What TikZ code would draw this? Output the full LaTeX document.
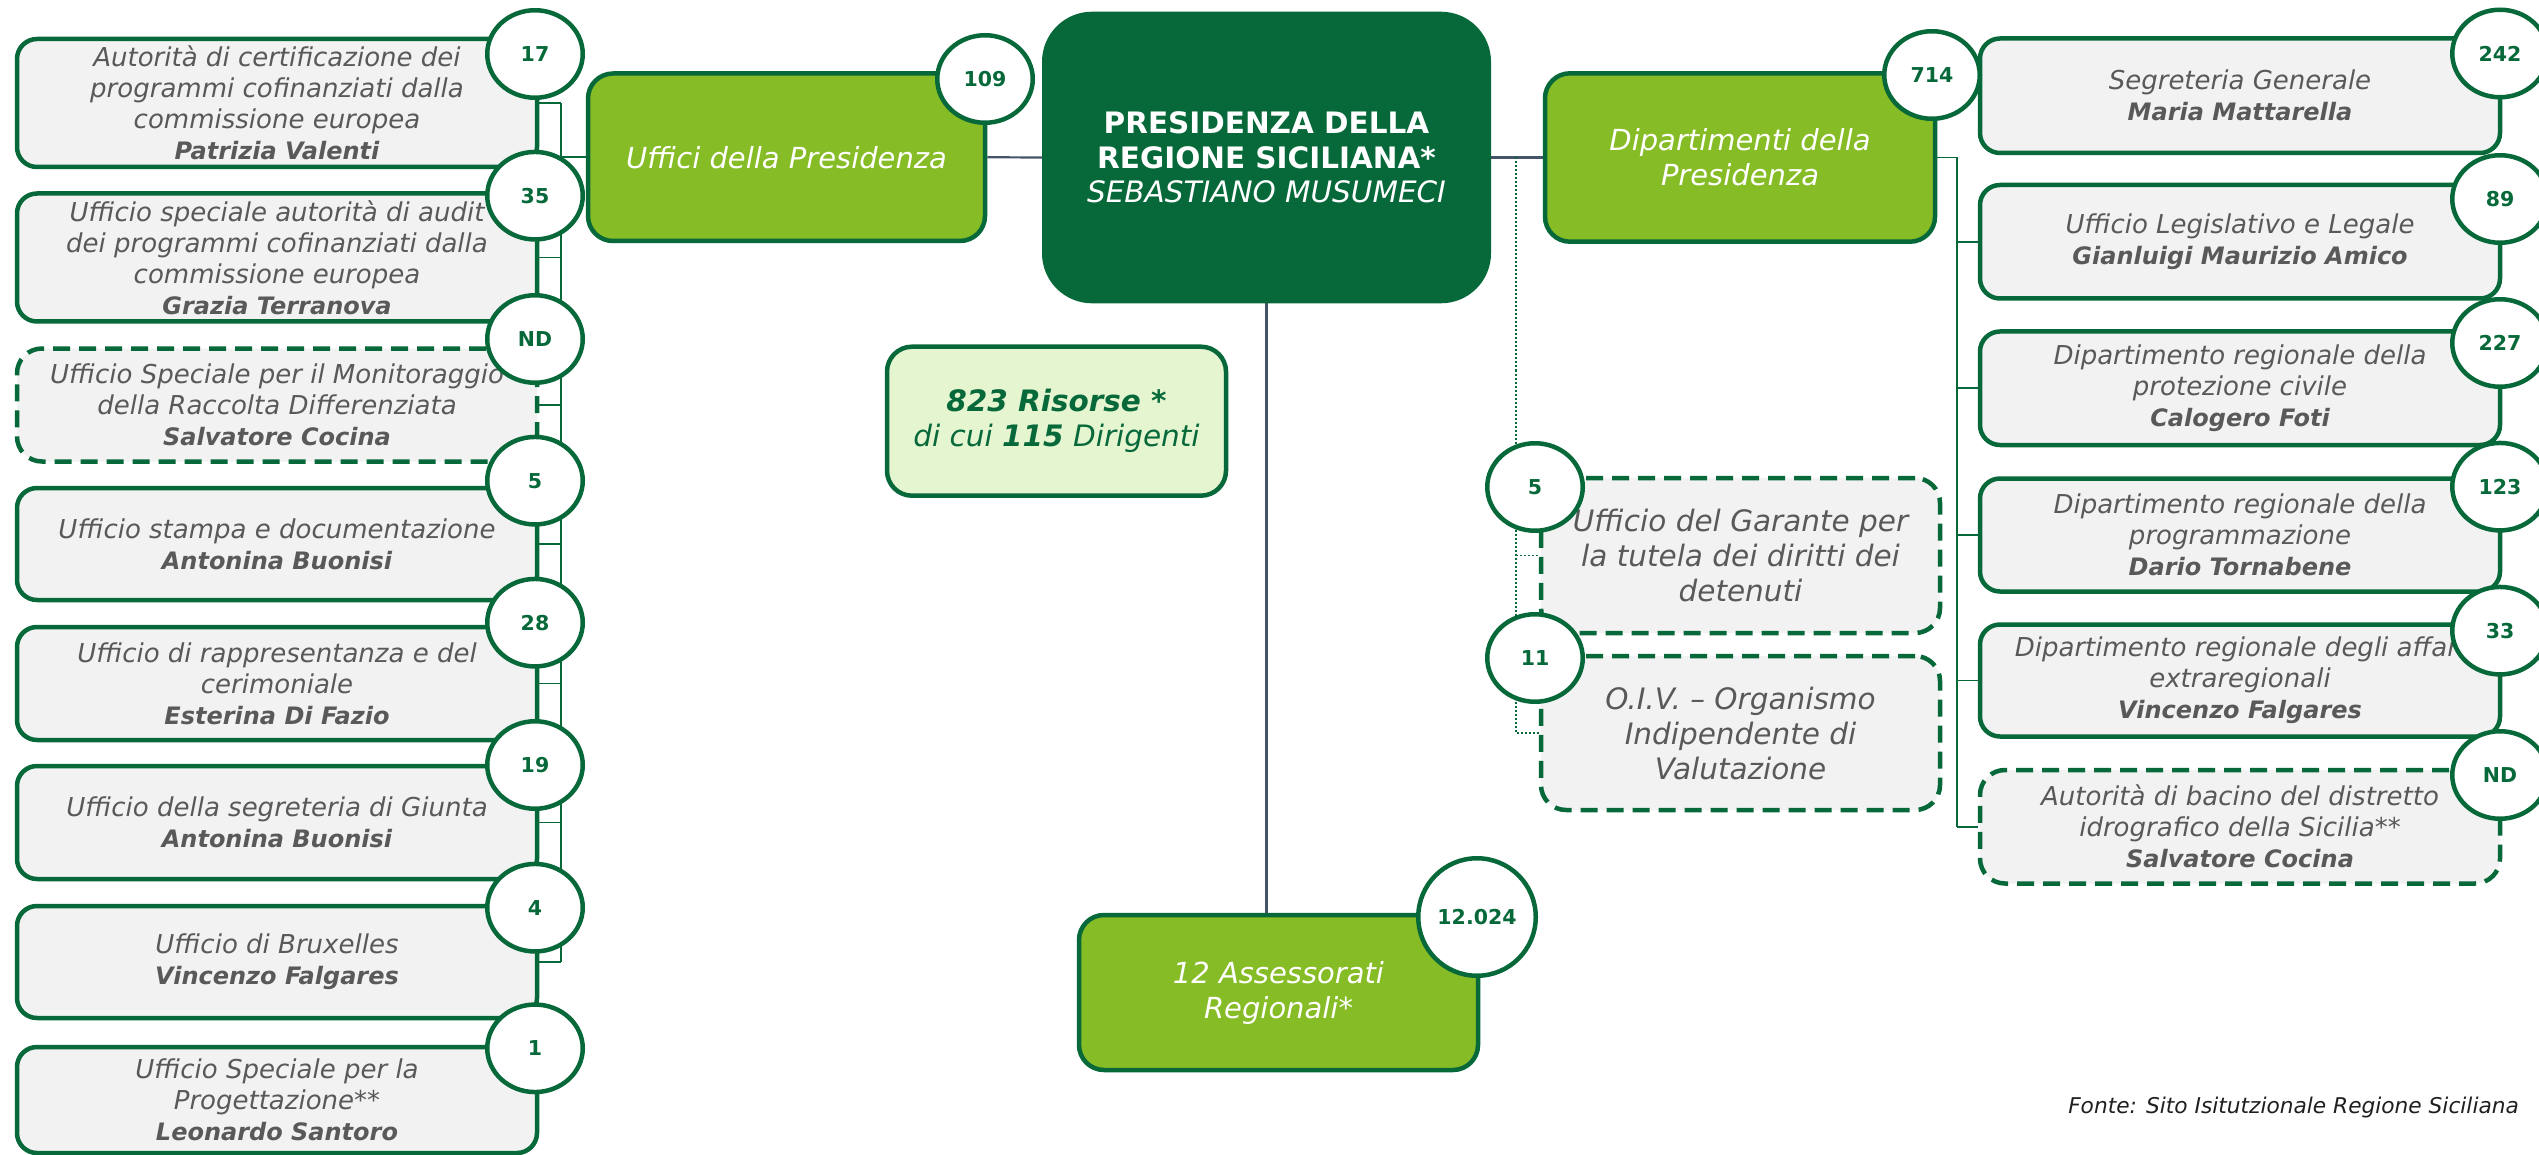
\documentclass[tikz,border=0pt]{standalone}
\usepackage{fontspec}
\setmainfont{DejaVu Sans}[ItalicFont={DejaVu Sans Oblique},BoldFont={DejaVu Sans Bold},BoldItalicFont={DejaVu Sans Bold Oblique}]
\usetikzlibrary{shapes.geometric}
\definecolor{dkgreen}{HTML}{07693A}
\definecolor{ltgreen}{HTML}{86BC25}
\definecolor{boxgray}{HTML}{F2F2F2}
\definecolor{txtgray}{HTML}{595959}
\definecolor{linkblue}{HTML}{44546A}
\definecolor{paleg}{HTML}{E5F5D0}
\definecolor{srcblack}{HTML}{1F1F1F}
\newcommand{\gtxt}{\fontsize{26}{31}\selectfont\itshape}
\newcommand{\nm}[1]{{\fontsize{24}{31}\selectfont\bfseries #1}}
\pgfdeclarelayer{bg}
\pgfsetlayers{bg,main}
\tikzset{
  graybox/.style={rectangle, rounded corners=20pt, draw=dkgreen, line width=4.5pt, fill=boxgray, text=txtgray, font=\gtxt, align=center, minimum width=520pt, inner sep=0pt},
  dashbox/.style={graybox, rounded corners=25pt, dash pattern=on 17pt off 9pt},
  greenbox/.style={rectangle, rounded corners=25pt, draw=dkgreen, line width=4.5pt, fill=ltgreen, text=white, font=\fontsize{29}{35}\selectfont\itshape, align=center, inner sep=0pt},
  badge/.style={ellipse, draw=dkgreen, line width=4.5pt, fill=white, text=dkgreen, font=\fontsize{20.5}{24}\selectfont\bfseries, minimum width=95.5pt, minimum height=87.5pt, inner sep=0pt},
  treeline/.style={draw=dkgreen, line width=1.6pt},
  mainlink/.style={draw=linkblue, line width=2.2pt},
  dotline/.style={draw=dkgreen, line width=1.2pt, dash pattern=on 2pt off 2pt},
}
\begin{document}
\begin{tikzpicture}[x=1pt,y=-1pt]
\useasboundingbox (0,0) rectangle (2539,1155);
\begin{pgfonlayer}{bg}
\fill[white] (0,0) rectangle (2539,1155);
\end{pgfonlayer}

% central boxes
\node[rectangle, rounded corners=50pt, fill=dkgreen, text=white, align=center, inner sep=0pt,
      minimum width=449pt, minimum height=291.6pt, font=\fontsize{29.5}{34.5}\selectfont] (pres) at (1266.5,157.5)
      {\bfseries PRESIDENZA DELLA\\\bfseries REGIONE SICILIANA*\\\itshape SEBASTIANO MUSUMECI};
\node[greenbox, minimum width=397pt, minimum height=167.5pt] (uff) at (786.5,157.25) {Uffici della Presidenza};
\node[greenbox, minimum width=390pt, minimum height=168.4pt] (dip) at (1740,157.5) {Dipartimenti della\\Presidenza};
\node[greenbox, minimum width=399pt, minimum height=155pt] (ass) at (1278.5,992.5) {12 Assessorati\\Regionali*};
\node[rectangle, rounded corners=25pt, draw=dkgreen, line width=4.5pt, fill=paleg, text=dkgreen, align=center, inner sep=0pt,
      minimum width=339pt, minimum height=149pt, font=\fontsize{29.5}{35}\selectfont\itshape] (ris) at (1056.5,421.2)
      {\textbf{823 Risorse *}\\di cui \textbf{115} Dirigenti};

% left column
\node[graybox, minimum height=128pt] (l1) at (277,103) {Autorità di certificazione dei\\programmi cofinanziati dalla\\commissione europea\\\nm{Patrizia Valenti}};
\node[graybox, minimum height=128pt] (l2) at (277,257.5) {Ufficio speciale autorità di audit\\dei programmi cofinanziati dalla\\commissione europea\\\nm{Grazia Terranova}};
\node[dashbox, minimum height=113pt] (l3) at (277,405) {Ufficio Speciale per il Monitoraggio\\della Raccolta Differenziata\\\nm{Salvatore Cocina}};
\node[graybox, minimum height=112pt] (l4) at (277,544) {Ufficio stampa e documentazione\\\nm{Antonina Buonisi}};
\node[graybox, minimum height=113pt] (l5) at (277,683.5) {Ufficio di rappresentanza e del\\cerimoniale\\\nm{Esterina Di Fazio}};
\node[graybox, minimum height=113pt] (l6) at (277,822.5) {Ufficio della segreteria di Giunta\\\nm{Antonina Buonisi}};
\node[graybox, minimum height=112pt] (l7) at (277,962) {Ufficio di Bruxelles\\\nm{Vincenzo Falgares}};
\node[graybox, minimum height=106pt] (l8) at (277,1100) {Ufficio Speciale per la\\Progettazione**\\\nm{Leonardo Santoro}};

% right column
\node[graybox, minimum height=114.5pt] (r1) at (2240,95.75) {Segreteria Generale\\\nm{Maria Mattarella}};
\node[graybox, minimum height=113.5pt] (r2) at (2240,241.75) {Ufficio Legislativo e Legale\\\nm{Gianluigi Maurizio Amico}};
\node[graybox, minimum height=113.5pt] (r3) at (2240,388.25) {Dipartimento regionale della\\protezione civile\\\nm{Calogero Foti}};
\node[graybox, minimum height=113pt] (r4) at (2240,535) {Dipartimento regionale della\\programmazione\\\nm{Dario Tornabene}};
\node[graybox, minimum height=112pt] (r5) at (2240,680.5) {Dipartimento regionale degli affari\\extraregionali\\\nm{Vincenzo Falgares}};
\node[dashbox, minimum height=113.5pt] (r6) at (2240,826.75) {Autorità di bacino del distretto\\idrografico della Sicilia**\\\nm{Salvatore Cocina}};

% middle dashed boxes
\node[dashbox, minimum width=399pt, minimum height=155pt, font=\fontsize{29.5}{35}\selectfont\itshape] (gar) at (1740.5,555.5) {Ufficio del Garante per\\la tutela dei diritti dei\\detenuti};
\node[dashbox, minimum width=399pt, minimum height=154pt, font=\fontsize{29.5}{35}\selectfont\itshape] (oiv) at (1740.5,733) {O.I.V. – Organismo\\Indipendente di\\Valutazione};

% connectors (behind)
\coordinate (lt) at (561,103);
\coordinate (rt) at (1957,157.5);
\coordinate (dt) at (1516,157.5);
\begin{pgfonlayer}{bg}
\draw[mainlink] (uff.east) -- (pres.west);
\draw[mainlink] (pres.east) -- (dip.west);
\draw[mainlink] (pres.south) -- (pres.south |- ass.north);
\draw[treeline] (lt) -- (lt |- l7.east);
\foreach \b in {l1,l2,l3,l4,l5,l6,l7} {\draw[treeline] (\b.east) -- (\b.east -| lt);}
\draw[treeline] (lt |- uff.west) -- (uff.west);
\draw[treeline] (dip.east) -- (rt) -- (rt |- r6.west);
\foreach \b in {r2,r3,r4,r5,r6} {\draw[treeline] (rt |- \b.west) -- (\b.west);}
\draw[dotline] (dt) -- (dt |- oiv.west) -- (oiv.west);
\draw[dotline] (dt |- gar.west) -- (gar.west);
\end{pgfonlayer}

% badges
\node[badge] (b17) at (535,54) {17};
\node[badge] (b35) at (535,195.7) {35};
\node[badge] (bnd1) at (535,339) {ND};
\node[badge] (b5a) at (535,480.7) {5};
\node[badge] (b28) at (535,622.7) {28};
\node[badge] (b19) at (535,765) {19};
\node[badge] (b4) at (535,907.7) {4};
\node[badge] (b1) at (535,1048.3) {1};
\node[badge] (b242) at (2500,53.5) {242};
\node[badge] (b89) at (2500,199) {89};
\node[badge] (b227) at (2500,343) {227};
\node[badge] (b123) at (2500,486.7) {123};
\node[badge] (b33) at (2500,630.7) {33};
\node[badge] (bnd2) at (2500,775) {ND};
\node[badge] (b109) at (985,79) {109};
\node[badge] (b714) at (1932,75) {714};
\node[badge] (b5b) at (1535,487) {5};
\node[badge] (b11) at (1535,658) {11};
\node[badge, minimum width=117.5pt, minimum height=117.5pt] (b12024) at (1477,917) {12.024};

% source
\node[anchor=east, inner sep=0pt, text=srcblack, font=\fontsize{21.7}{26}\selectfont\itshape] (src) at (2519,1108) {Fonte: Sito Isitutzionale Regione Siciliana};
\end{tikzpicture}
\end{document}
